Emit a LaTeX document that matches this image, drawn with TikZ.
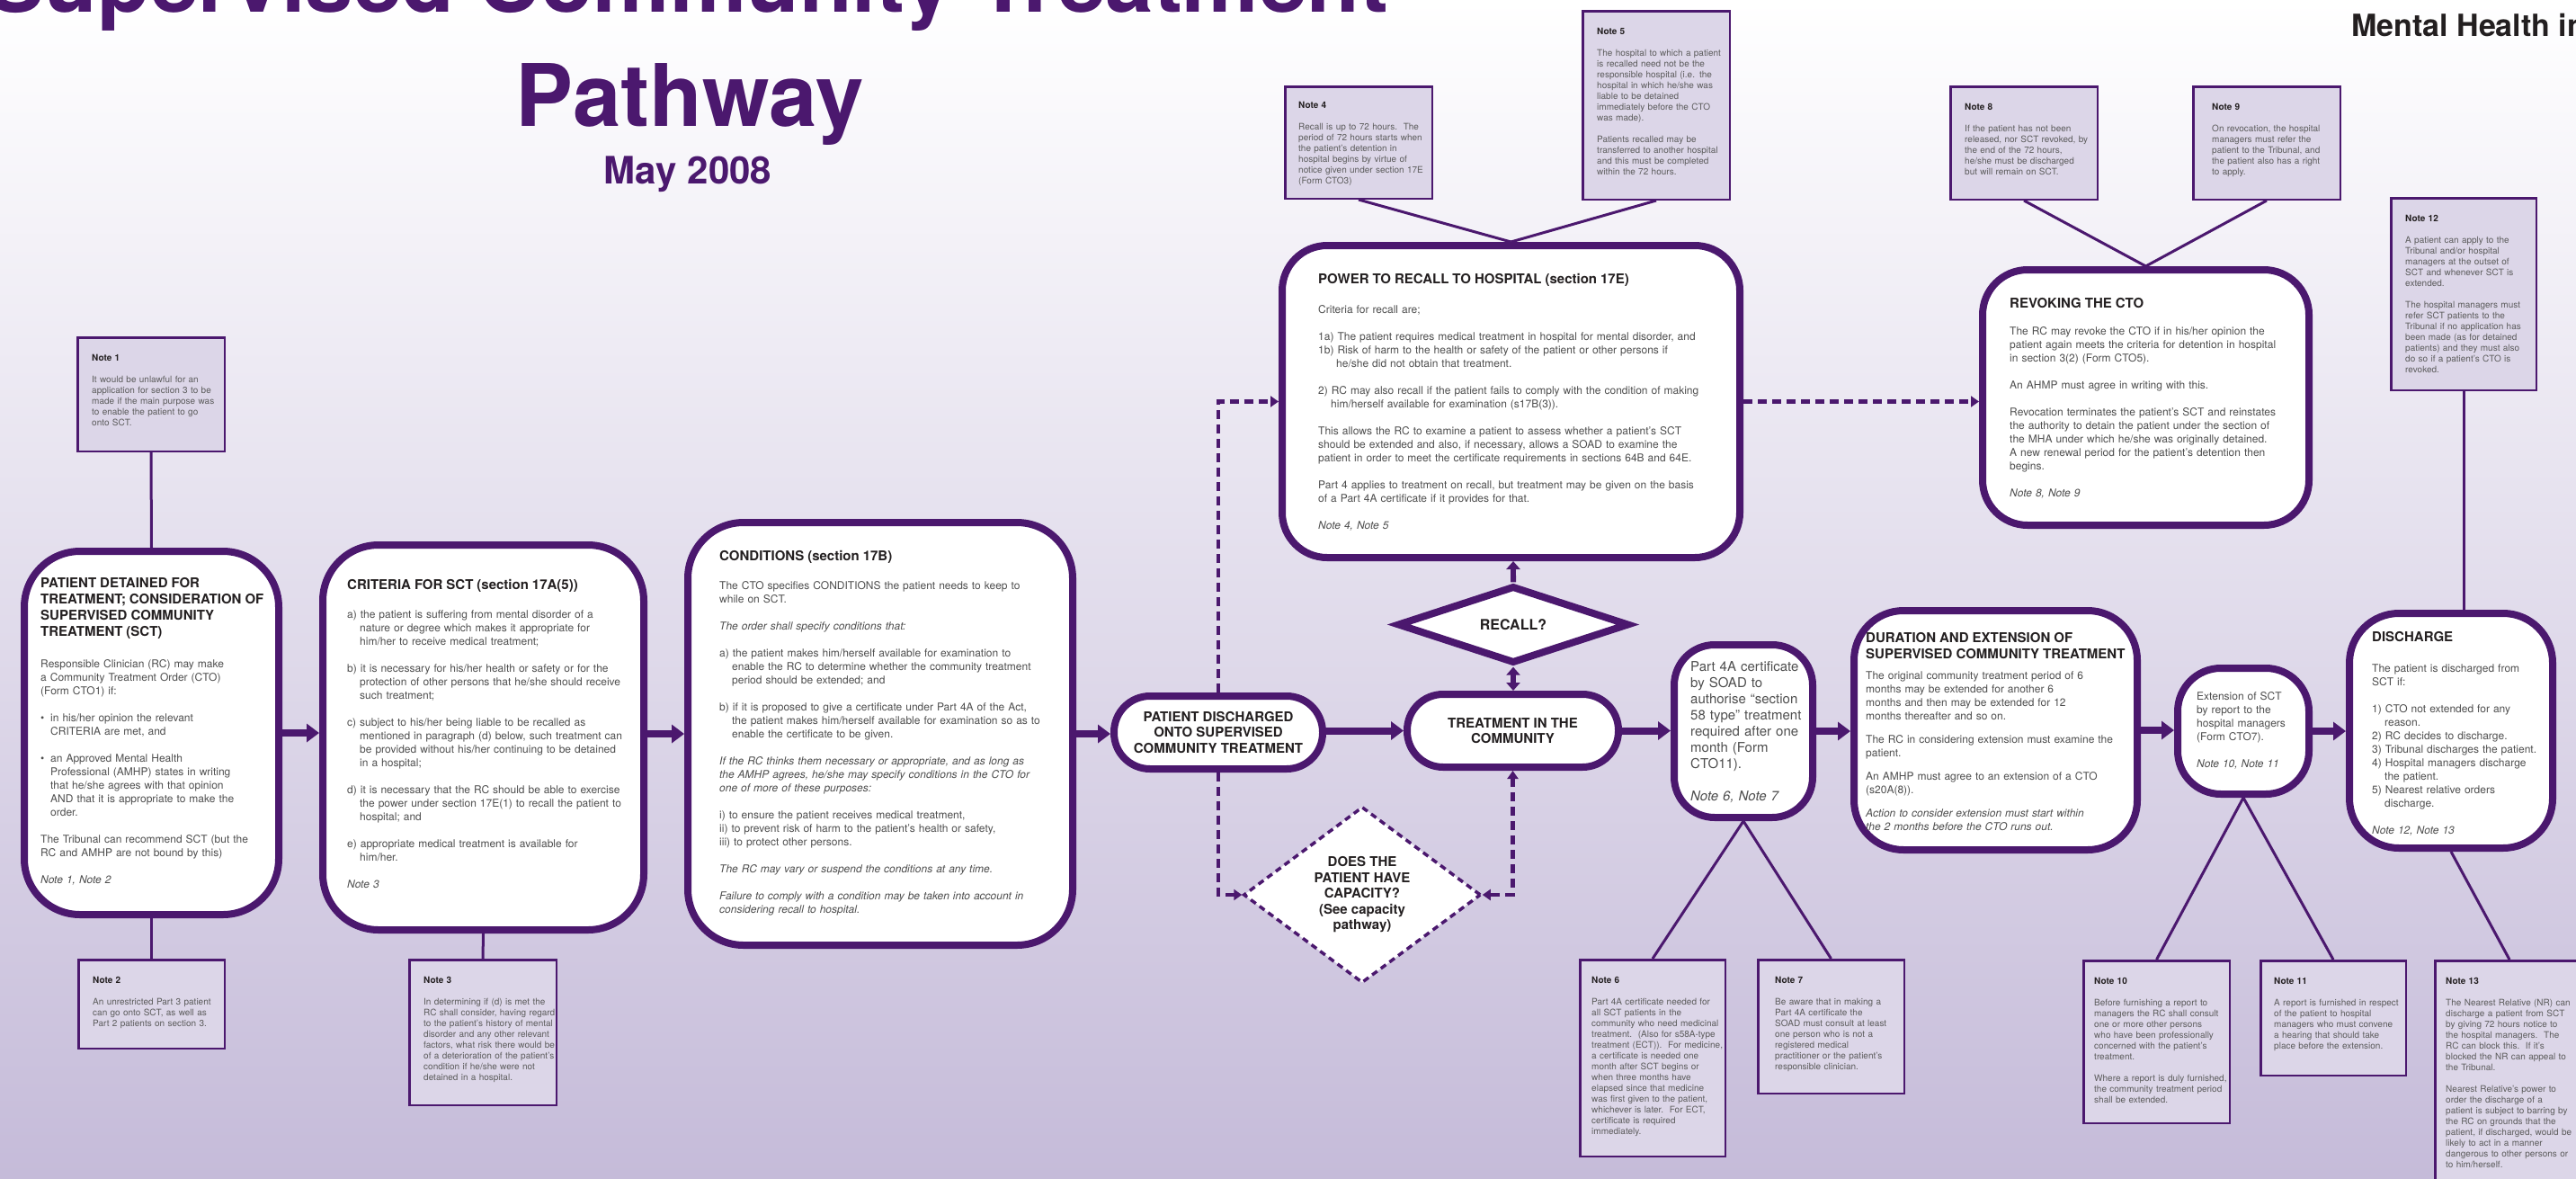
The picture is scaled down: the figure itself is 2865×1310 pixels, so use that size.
\documentclass[tikz,border=0pt]{standalone}
\usepackage{fontspec}
\setmainfont{TeX Gyre Heros}
\usetikzlibrary{arrows.meta,shapes.geometric,positioning}

\definecolor{mhpurple}{RGB}{75,24,110}
\definecolor{notefill}{RGB}{220,214,232}
\definecolor{bodygray}{RGB}{78,78,78}
\definecolor{notegray}{RGB}{92,92,92}
\definecolor{headblack}{RGB}{35,31,32}
\definecolor{bgmid}{RGB}{234,229,241}
\definecolor{bglow}{RGB}{197,187,217}

\setlength{\parindent}{0pt}
\newcommand\bodyfont{\fontsize{12}{15}\selectfont}
\newcommand\headfont{\fontsize{15}{18}\selectfont\bfseries\color{headblack}}
\newcommand\notefont{\fontsize{10}{12}\selectfont}
\newcommand\pillfont{\bfseries\fontsize{15}{17.5}\selectfont}
\newcommand\boxhead[1]{{\headfont #1\par}}
\newcommand\notehead[1]{{\bfseries\color{headblack}#1}\\[12pt]}
\newcommand\hind{\hspace*{14pt}}
\newcommand\bul{\makebox[11pt][l]{\textbullet}}

\tikzset{
  stage/.style={draw=mhpurple, line width=8pt, fill=white, inner sep=0pt},
  pill/.style={stage, rounded corners=40pt, align=center, font=\pillfont, text=headblack},
  notebox/.style={draw=mhpurple, line width=2.5pt, fill=notefill, inner sep=0pt},
  txt/.style={inner sep=0pt, align=left, text=bodygray, font=\bodyfont},
  notetxt/.style={txt, text width=150pt, font=\notefont, text=notegray},
  tie/.style={draw=mhpurple, line width=3pt},
  flow/.style={draw=mhpurple, line width=8pt, -{Triangle[length=14pt,width=20pt]}},
  shortflow/.style={draw=mhpurple, line width=6pt, {Triangle[length=9pt,width=15pt]}-{Triangle[length=9pt,width=15pt]}},
  dashflow/.style={draw=mhpurple, line width=4.5pt, dash pattern=on 10pt off 6pt, -{Triangle[length=9pt,width=12pt]}},
  maintitle/.style={font=\bfseries\fontsize{96}{110}\selectfont, text=mhpurple, inner sep=0pt}
}

\begin{document}
\begin{tikzpicture}[x=1pt,y=-1pt]
\useasboundingbox (0,0) rectangle (2865,1310);
\shade[top color=white, middle color=bgmid, bottom color=bglow] (0,0) rectangle (2865,1310);

% titles
\node[maintitle, anchor=base] (title) at (765,13) {Supervised Community Treatment};
\node[maintitle, anchor=base] (pathway) at (767,140) {Pathway};
\node[font=\bfseries\fontsize{42}{48}\selectfont, text=mhpurple, inner sep=0pt, anchor=base] (date) at (765,204) {May 2008};
\node[font=\bfseries\fontsize{34}{40}\selectfont, text=headblack, inner sep=0pt, anchor=base west] (series) at (2615,40) {Mental Health in};

% main stages
\node[stage, rounded corners=62pt, minimum width=283pt, minimum height=404pt] (detain) at (168.5,815) {};
\node[stage, rounded corners=62pt, minimum width=357pt, minimum height=428pt] (criteria) at (537.5,820) {};
\node[stage, rounded corners=62pt, minimum width=428pt, minimum height=470pt] (cond) at (979,816) {};
\node[pill, minimum width=232pt, minimum height=81pt] (pdis) at (1355,814.5) {PATIENT DISCHARGED\\ ONTO SUPERVISED\\ COMMUNITY TREATMENT};
\node[pill, minimum width=235pt, minimum height=81pt] (treat) at (1682.5,812.5) {TREATMENT IN THE\\ COMMUNITY};
\node[stage, diamond, minimum width=258pt, minimum height=78pt, font=\bfseries\fontsize{16}{18}\selectfont, text=headblack] (recall) at (1683,694.5) {RECALL?};
\node[draw=mhpurple, line width=3.5pt, dash pattern=on 7pt off 5pt, fill=white, diamond, minimum width=264pt, minimum height=196pt, inner sep=0pt, align=center, font=\pillfont, text=headblack] (capacity) at (1515,995) {DOES THE\\ PATIENT HAVE\\ CAPACITY?\\ (See capacity\\ pathway)};
\node[stage, rounded corners=50pt, minimum width=509pt, minimum height=347pt] (power) at (1680.5,446.5) {};
\node[stage, rounded corners=50pt, minimum width=363pt, minimum height=284pt] (revoke) at (2386.5,442) {};
\node[stage, rounded corners=45pt, minimum width=154pt, minimum height=192pt] (part4a) at (1939,813) {};
\node[stage, rounded corners=55pt, minimum width=315pt, minimum height=266pt] (duration) at (2219.5,812) {};
\node[stage, rounded corners=48pt, minimum width=146pt, minimum height=140pt] (extension) at (2495,813) {};
\node[stage, rounded corners=55pt, minimum width=226pt, minimum height=261pt] (discharge) at (2726,812.5) {};

% stage texts
\node[txt, text width=265pt, below right=33pt and 22pt of detain.north west] (detain-t) {\boxhead{PATIENT DETAINED FOR\\ TREATMENT; CONSIDERATION OF\\ SUPERVISED COMMUNITY\\ TREATMENT (SCT)}\vspace{20pt}
Responsible Clinician (RC) may make\\
a Community Treatment Order (CTO)\\
(Form CTO1) if:\\[15pt]
\bul in his/her opinion the relevant\\
\hspace*{11pt}CRITERIA are met, and\\[15pt]
\bul an Approved Mental Health\\
\hspace*{11pt}Professional (AMHP) states in writing\\
\hspace*{11pt}that he/she agrees with that opinion\\
\hspace*{11pt}AND that it is appropriate to make the\\
\hspace*{11pt}order.\\[15pt]
The Tribunal can recommend SCT (but the\\
RC and AMHP are not bound by this)\\[15pt]
{\itshape Note 1, Note 2}};

\node[txt, text width=325pt, below right=42pt and 31pt of criteria.north west] (criteria-t) {\boxhead{CRITERIA FOR SCT (section 17A(5))}\vspace{17pt}
a) the patient is suffering from mental disorder of a\\
\hind nature or degree which makes it appropriate for\\
\hind him/her to receive medical treatment;\\[15pt]
b) it is necessary for his/her health or safety or for the\\
\hind protection of other persons that he/she should receive\\
\hind such treatment;\\[15pt]
c) subject to his/her being liable to be recalled as\\
\hind mentioned in paragraph (d) below, such treatment can\\
\hind be provided without his/her continuing to be detained\\
\hind in a hospital;\\[15pt]
d) it is necessary that the RC should be able to exercise\\
\hind the power under section 17E(1) to recall the patient to\\
\hind hospital; and\\[15pt]
e) appropriate medical treatment is available for\\
\hind him/her.\\[15pt]
{\itshape Note 3}};

\node[txt, text width=380pt, below right=35pt and 39pt of cond.north west] (cond-t) {\boxhead{CONDITIONS (section 17B)}\vspace{17pt}
The CTO specifies CONDITIONS the patient needs to keep to\\
while on SCT.\\[15pt]
{\itshape The order shall specify conditions that:}\\[15pt]
a) the patient makes him/herself available for examination to\\
\hind enable the RC to determine whether the community treatment\\
\hind period should be extended; and\\[15pt]
b) if it is proposed to give a certificate under Part 4A of the Act,\\
\hind the patient makes him/herself available for examination so as to\\
\hind enable the certificate to be given.\\[15pt]
{\itshape If the RC thinks them necessary or appropriate, and as long as\\
the AMHP agrees, he/she may specify conditions in the CTO for\\
one of more of these purposes:}\\[15pt]
i) to ensure the patient receives medical treatment,\\
ii) to prevent risk of harm to the patient’s health or safety,\\
iii) to protect other persons.\\[15pt]
{\itshape The RC may vary or suspend the conditions at any time.}\\[15pt]
{\itshape Failure to comply with a condition may be taken into account in\\
considering recall to hospital.}};

\node[txt, text width=455pt, below right=35pt and 44pt of power.north west] (power-t) {\boxhead{POWER TO RECALL TO HOSPITAL (section 17E)}\vspace{18pt}
Criteria for recall are;\\[15pt]
1a) The patient requires medical treatment in hospital for mental disorder, and\\
1b) Risk of harm to the health or safety of the patient or other persons if\\
\hspace*{20pt}he/she did not obtain that treatment.\\[15pt]
2) RC may also recall if the patient fails to comply with the condition of making\\
\hind him/herself available for examination (s17B(3)).\\[15pt]
This allows the RC to examine a patient to assess whether a patient’s SCT\\
should be extended and also, if necessary, allows a SOAD to examine the\\
patient in order to meet the certificate requirements in sections 64B and 64E.\\[15pt]
Part 4 applies to treatment on recall, but treatment may be given on the basis\\
of a Part 4A certificate if it provides for that.\\[15pt]
{\itshape Note 4, Note 5}};

\node[txt, text width=320pt, below right=35pt and 34pt of revoke.north west] (revoke-t) {\boxhead{REVOKING THE CTO}\vspace{15pt}
The RC may revoke the CTO if in his/her opinion the\\
patient again meets the criteria for detention in hospital\\
in section 3(2) (Form CTO5).\\[15pt]
An AHMP must agree in writing with this.\\[15pt]
Revocation terminates the patient’s SCT and reinstates\\
the authority to detain the patient under the section of\\
the MHA under which he/she was originally detained.\\
A new renewal period for the patient’s detention then\\
begins.\\[15pt]
{\itshape Note 8, Note 9}};

\node[txt, text width=140pt, font=\fontsize{15}{18}\selectfont, below right=22pt and 22pt of part4a.north west] (part4a-t) {Part 4A certificate\\
by SOAD to\\
authorise “section\\
58 type” treatment\\
required after one\\
month (Form\\
CTO11).\\[18pt]
{\itshape Note 6, Note 7}};

\node[txt, text width=305pt, below right=28pt and 17pt of duration.north west] (duration-t) {\boxhead{DURATION AND EXTENSION OF\\ SUPERVISED COMMUNITY TREATMENT}\vspace{8pt}
The original community treatment period of 6\\
months may be extended for another 6\\
months and then may be extended for 12\\
months thereafter and so on.\\[11pt]
The RC in considering extension must examine the\\
patient.\\[11pt]
An AMHP must agree to an extension of a CTO\\
(s20A(8)).\\[11pt]
{\itshape Action to consider extension must start within\\
the 2 months before the CTO runs out.}};

\node[txt, text width=130pt, below right=30pt and 25pt of extension.north west] (extension-t) {Extension of SCT\\
by report to the\\
hospital managers\\
(Form CTO7).\\[15pt]
{\itshape Note 10, Note 11}};

\node[txt, text width=205pt, below right=24pt and 29pt of discharge.north west] (discharge-t) {\boxhead{DISCHARGE}\vspace{19pt}
The patient is discharged from\\
SCT if:\\[15pt]
1) CTO not extended for any\\
\hind reason.\\
2) RC decides to discharge.\\
3) Tribunal discharges the patient.\\
4) Hospital managers discharge\\
\hind the patient.\\
5) Nearest relative orders\\
\hind discharge.\\[15pt]
{\itshape Note 12, Note 13}};

% notes
\node[notebox, minimum width=163.5pt, minimum height=126.5pt] (note1) at (168,438.5) {};
\node[notebox, minimum width=162.5pt, minimum height=98.5pt] (note2) at (168.5,1116.5) {};
\node[notebox, minimum width=163.5pt, minimum height=161.5pt] (note3) at (537,1148) {};
\node[notebox, minimum width=163.5pt, minimum height=124.5pt] (note4) at (1511,158.5) {};
\node[notebox, minimum width=163.5pt, minimum height=209.5pt] (note5) at (1842,117) {};
\node[notebox, minimum width=161.5pt, minimum height=218.5pt] (note6) at (1838,1176.5) {};
\node[notebox, minimum width=162.5pt, minimum height=148.5pt] (note7) at (2036.5,1141.5) {};
\node[notebox, minimum width=163.5pt, minimum height=125.5pt] (note8) at (2251,159) {};
\node[notebox, minimum width=163.5pt, minimum height=125.5pt] (note9) at (2521,159) {};
\node[notebox, minimum width=162.5pt, minimum height=180.5pt] (note10) at (2398.5,1158.5) {};
\node[notebox, minimum width=161.5pt, minimum height=127.5pt] (note11) at (2595,1132) {};
\node[notebox, minimum width=161.5pt, minimum height=213.5pt] (note12) at (2740,327) {};
\node[notebox, minimum width=165.5pt, minimum height=255.5pt] (note13) at (2791,1196) {};

\node[notetxt, below right=20pt and 17pt of note1.north west] (note1-t) {\notehead{Note 1}It would be unlawful for an\\ application for section 3 to be\\ made if the main purpose was\\ to enable the patient to go\\ onto SCT.};
\node[notetxt, below right=20pt and 17pt of note2.north west] (note2-t) {\notehead{Note 2}An unrestricted Part 3 patient\\ can go onto SCT, as well as\\ Part 2 patients on section 3.};
\node[notetxt, below right=20pt and 17pt of note3.north west] (note3-t) {\notehead{Note 3}In determining if (d) is met the\\ RC shall consider, having regard\\ to the patient’s history of mental\\ disorder and any other relevant\\ factors, what risk there would be\\ of a deterioration of the patient’s\\ condition if he/she were not\\ detained in a hospital.};
\node[notetxt, below right=18pt and 16pt of note4.north west] (note4-t) {\notehead{Note 4}Recall is up to 72 hours.\ \ The\\ period of 72 hours starts when\\ the patient’s detention in\\ hospital begins by virtue of\\ notice given under section 17E\\ (Form CTO3)};
\node[notetxt, below right=20pt and 17pt of note5.north west] (note5-t) {\notehead{Note 5}The hospital to which a patient\\ is recalled need not be the\\ responsible hospital (i.e. the\\ hospital in which he/she was\\ liable to be detained\\ immediately before the CTO\\ was made).\\[12pt] Patients recalled may be\\ transferred to another hospital\\ and this must be completed\\ within the 72 hours.};
\node[notetxt, below right=20pt and 14pt of note6.north west] (note6-t) {\notehead{Note 6}Part 4A certificate needed for\\ all SCT patients in the\\ community who need medicinal\\ treatment.\ \ (Also for s58A-type\\ treatment (ECT)).\ \ For medicine,\\ a certificate is needed one\\ month after SCT begins or\\ when three months have\\ elapsed since that medicine\\ was first given to the patient,\\ whichever is later.\ \ For ECT,\\ certificate is required\\ immediately.};
\node[notetxt, below right=20pt and 20pt of note7.north west] (note7-t) {\notehead{Note 7}Be aware that in making a\\ Part 4A certificate the\\ SOAD must consult at least\\ one person who is not a\\ registered medical\\ practitioner or the patient’s\\ responsible clinician.};
\node[notetxt, below right=20pt and 17pt of note8.north west] (note8-t) {\notehead{Note 8}If the patient has not been\\ released, nor SCT revoked, by\\ the end of the 72 hours,\\ he/she must be discharged\\ but will remain on SCT.};
\node[notetxt, below right=20pt and 22pt of note9.north west] (note9-t) {\notehead{Note 9}On revocation, the hospital\\ managers must refer the\\ patient to the Tribunal, and\\ the patient also has a right\\ to apply.};
\node[notetxt, below right=20pt and 13pt of note10.north west] (note10-t) {\notehead{Note 10}Before furnishing a report to\\ managers the RC shall consult\\ one or more other persons\\ who have been professionally\\ concerned with the patient’s\\ treatment.\\[12pt] Where a report is duly furnished,\\ the community treatment period\\ shall be extended.};
\node[notetxt, below right=20pt and 16pt of note11.north west] (note11-t) {\notehead{Note 11}A report is furnished in respect\\ of the patient to hospital\\ managers who must convene\\ a hearing that should take\\ place before the extension.};
\node[notetxt, below right=20pt and 17pt of note12.north west] (note12-t) {\notehead{Note 12}A patient can apply to the\\ Tribunal and/or hospital\\ managers at the outset of\\ SCT and whenever SCT is\\ extended.\\[12pt] The hospital managers must\\ refer SCT patients to the\\ Tribunal if no application has\\ been made (as for detained\\ patients) and they must also\\ do so if a patient’s CTO is\\ revoked.};
\node[notetxt, below right=20pt and 13pt of note13.north west] (note13-t) {\notehead{Note 13}The Nearest Relative (NR) can\\ discharge a patient from SCT\\ by giving 72 hours notice to\\ the hospital managers.\ \ The\\ RC can block this.\ \ If it’s\\ blocked the NR can appeal to\\ the Tribunal.\\[12pt] Nearest Relative’s power to\\ order the discharge of a\\ patient is subject to barring by\\ the RC on grounds that the\\ patient, if discharged, would be\\ likely to act in a manner\\ dangerous to other persons or\\ to him/herself.};

% note ties
\draw[tie] (note1.south) -- (detain.north);
\draw[tie] (detain.south) -- (note2.north);
\draw[tie] (criteria.south) -- (note3.north);
\draw[tie] (note4.south) -- (power.north);
\draw[tie] (note5.south) -- (power.north);
\draw[tie] (note8.south) -- (revoke.north);
\draw[tie] (note9.south) -- (revoke.north);
\draw[tie] (part4a.south) -- (note6.north);
\draw[tie] (part4a.south) -- (note7.north);
\draw[tie] (extension.south) -- (note10.north);
\draw[tie] (extension.south) -- (note11.north);
\draw[tie] (note12.south) -- (note12.south |- discharge.north);
\draw[tie] (discharge.south) -- (note13.north);

% main flow
\draw[flow] (detain.east) -- (detain.east -| criteria.west);
\draw[flow] (cond.west -| criteria.east) -- (cond.west);
\draw[flow] (cond.east) -- (cond.east -| pdis.west);
\draw[flow] (treat.west -| pdis.east) -- (treat.west);
\draw[flow] (treat.east) -- (treat.east -| part4a.west);
\draw[flow] (part4a.east) -- (part4a.east -| duration.west);
\draw[flow] (duration.east) -- (duration.east -| extension.west);
\draw[flow] (extension.east) -- (extension.east -| discharge.west);
\draw[shortflow] (recall.south) -- (recall.south |- treat.north);
\draw[shortflow, {Butt Cap}-{Triangle[length=9pt,width=15pt]}] (recall.north) -- (recall.north |- power.south);

% dashed routes
\draw[dashflow] (pdis.north) |- (power.west);
\draw[dashflow] (power.east) -- (power.east -| revoke.west);
\draw[dashflow] (pdis.south) |- (capacity.west);
\draw[dashflow, {Triangle[length=9pt,width=12pt]}-{Triangle[length=9pt,width=12pt]}] (treat.south) |- (capacity.east);
\end{tikzpicture}
\end{document}
